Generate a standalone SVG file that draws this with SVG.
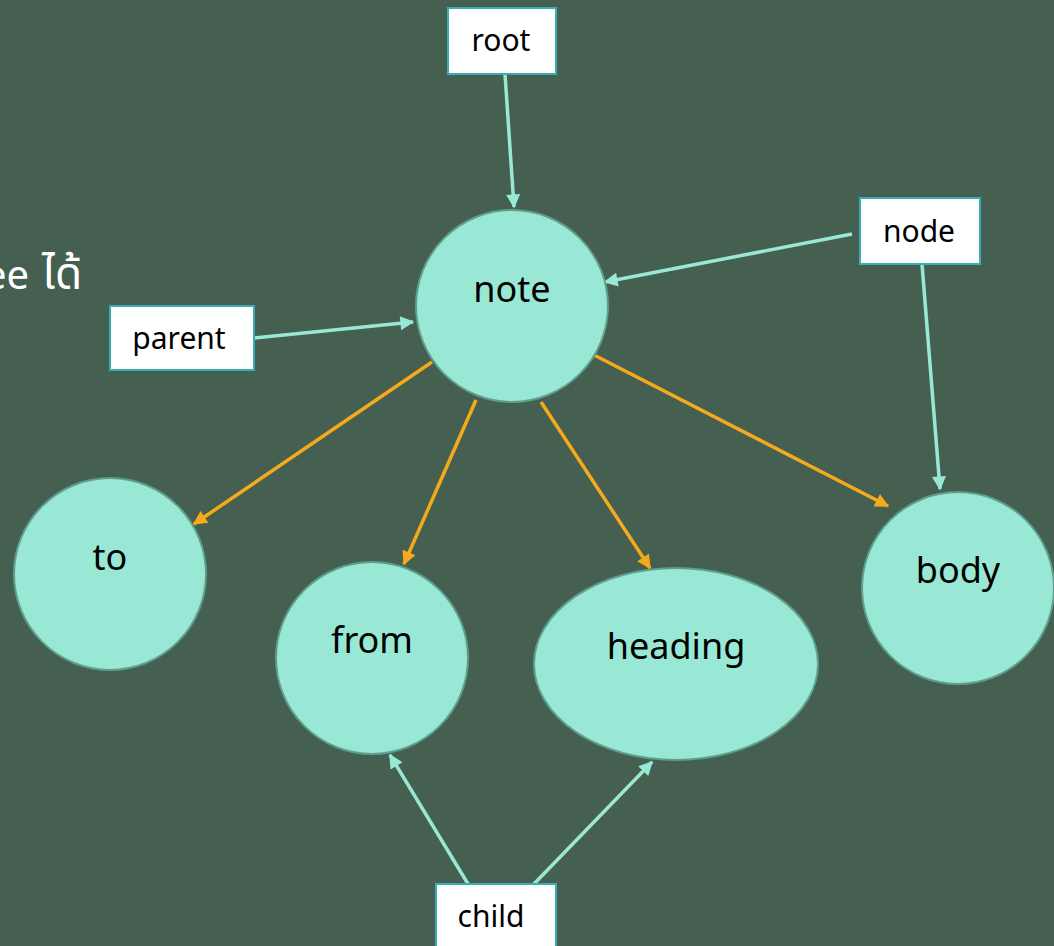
<svg xmlns="http://www.w3.org/2000/svg" width="1054" height="946" viewBox="0 0 1054 946">
<defs>
<style>
.bg{fill:#455F50}
.node{fill:#98E8D5;stroke:#5E9E8C;stroke-width:2}
.box{fill:#FFFFFF;stroke:#3AACB8;stroke-width:2}
.t{font-family:"Noto Sans","Open Sans","DejaVu Sans",sans-serif;fill:#000;text-anchor:middle}
.nt{font-size:36px}
.bt{font-size:30px}
.teal{stroke:#98E8D5;stroke-width:3.5;fill:none;marker-end:url(#ah-teal)}
.orange{stroke:#F5AA1C;stroke-width:3.5;fill:none;marker-end:url(#ah-orange)}
</style>
<marker id="ah-teal" viewBox="0 0 10 10" refX="9" refY="5" markerWidth="4.5" markerHeight="4" orient="auto" markerUnits="strokeWidth">
<path d="M0,0 L10,5 L0,10 z" fill="#98E8D5"/>
</marker>
<marker id="ah-orange" viewBox="0 0 10 10" refX="9" refY="5" markerWidth="4.5" markerHeight="4" orient="auto" markerUnits="strokeWidth">
<path d="M0,0 L10,5 L0,10 z" fill="#F5AA1C"/>
</marker>
</defs>
<rect class="bg" x="0" y="0" width="1054" height="946"/>
<text y="289" font-family="'Noto Sans','Noto Sans Thai','DejaVu Sans',sans-serif" fill="#FFFFFF"><tspan x="-16" font-size="40">ee</tspan><tspan x="42" font-size="44">ได้</tspan></text>
<g id="connectors">
<line class="teal" x1="505" y1="74" x2="514" y2="207"/>
<line class="teal" x1="852" y1="234" x2="605" y2="282"/>
<line class="teal" x1="254" y1="338" x2="413" y2="322"/>
<line class="teal" x1="922" y1="264" x2="940" y2="489"/>
<line class="teal" x1="468" y1="884" x2="390" y2="755"/>
<line class="teal" x1="532" y1="886" x2="652" y2="762"/>
<line class="orange" x1="432" y1="362" x2="194" y2="524"/>
<line class="orange" x1="476" y1="400" x2="404" y2="564"/>
<line class="orange" x1="541" y1="402" x2="650" y2="568"/>
<line class="orange" x1="594" y1="355" x2="888" y2="506"/>
</g>
<g id="note"><circle class="node" cx="512" cy="306" r="96"/><text class="t nt" x="512" y="302">note</text></g>
<g id="to"><circle class="node" cx="110" cy="574" r="96"/><text class="t nt" x="110" y="570">to</text></g>
<g id="from"><circle class="node" cx="372" cy="658" r="96"/><text class="t nt" x="372" y="653">from</text></g>
<g id="heading"><ellipse class="node" cx="676" cy="664" rx="142" ry="96"/><text class="t nt" x="676" y="659">heading</text></g>
<g id="body"><circle class="node" cx="958" cy="588" r="96"/><text class="t nt" x="958" y="583">body</text></g>
<g id="root"><rect class="box" x="448" y="8" width="108" height="66"/><text class="t bt" x="501" y="51">root</text></g>
<g id="nodebox"><rect class="box" x="860" y="198" width="120" height="66"/><text class="t bt" x="919" y="242">node</text></g>
<g id="parent"><rect class="box" x="110" y="306" width="144" height="64"/><text class="t bt" x="179" y="349">parent</text></g>
<g id="child"><rect class="box" x="436" y="884" width="120" height="70"/><text class="t bt" x="491" y="927">child</text></g>
</svg>
